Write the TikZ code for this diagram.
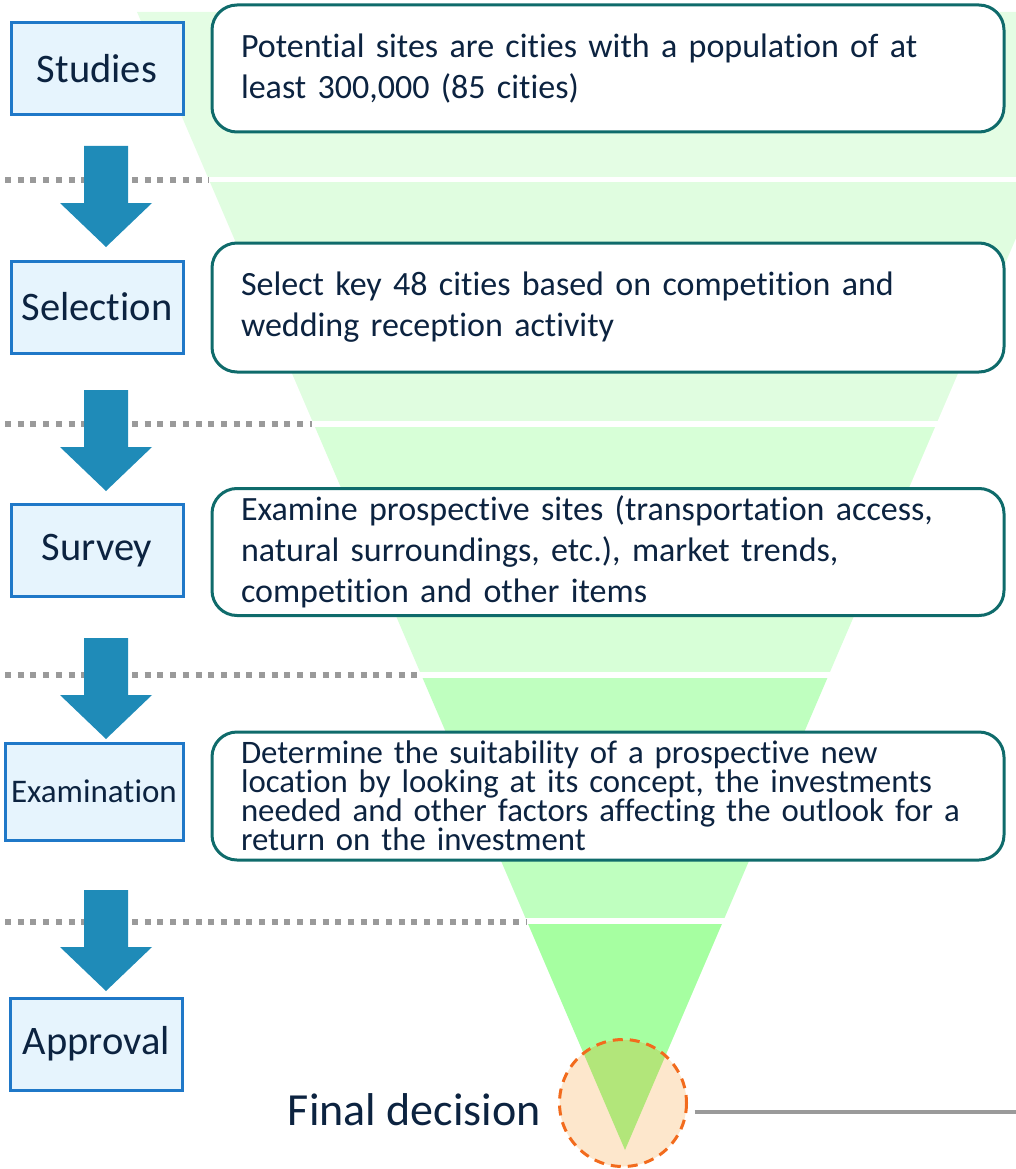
\documentclass[tikz,border=0pt]{standalone}
\usepackage{fontspec}
\setmainfont{Carlito}[Ligatures=NoCommon]
\usepackage{xcolor}
\usepackage{tikz}
\usetikzlibrary{calc}
\usetikzlibrary{positioning}

\definecolor{navy}{HTML}{0C2340}
\definecolor{stageblue}{HTML}{1F78C8}
\definecolor{stagefill}{HTML}{E6F4FD}
\definecolor{arrowblue}{HTML}{1F8BB8}
\definecolor{boxteal}{HTML}{0F6B6B}
\definecolor{sepgray}{HTML}{9A9A9A}
\definecolor{bandA}{HTML}{E4FDE4}
\definecolor{bandB}{HTML}{E0FDE0}
\definecolor{bandC}{HTML}{D7FFD7}
\definecolor{bandD}{HTML}{BFFFBF}
\definecolor{bandE}{HTML}{A6FFA1}
\definecolor{finalfill}{HTML}{FDE7CC}
\definecolor{finalgreen}{HTML}{B2E67A}
\definecolor{finalorange}{HTML}{F26B1D}

\tikzstyle{stage} = [rectangle, draw=stageblue, line width=3, fill=stagefill, text=navy, minimum width=172, minimum height=92, inner sep=0, font=\fontsize{40.5}{48}\selectfont]
\tikzstyle{desc} = [rectangle, rounded corners=25, draw=boxteal, line width=3, fill=white, text=navy, text width=734, inner xsep=29, inner ysep=0, minimum height=127, align=left, font=\fontsize{34}{41}\selectfont]
\tikzstyle{sep} = [draw=sepgray, line width=6, dash pattern=on 6 off 6.7]
\tikzstyle{flow} = [fill=arrowblue]

\begin{document}
\begin{tikzpicture}[x=1pt, y=-1pt]
\useasboundingbox (0, 0) rectangle (1016, 1169);

% funnel
\coordinate (ftl) at (137, 12);
\coordinate (ftr) at (1113, 12);
\coordinate (tip) at (625, 1150);
\foreach \yt/\yb/\col in {12/177/bandA, 183/420/bandB, 427/671/bandC, 678/917/bandD, 924/1150/bandE} {
  \begin{scope}
    \clip (0, \yt) rectangle (1016, \yb);
    \fill [\col] (ftl) -- (ftr) -- (tip) -- cycle;
  \end{scope}
}

% separators
\draw [sep] (5, 180) -- (209, 180);
\draw [sep] (5, 424) -- (312, 424);
\draw [sep] (5, 675) -- (420, 675);
\draw [sep] (5, 922) -- (527, 922);

% down arrows
\foreach \y in {146, 390, 638, 890} {
  \coordinate (a) at (106, \y);
  \fill [flow] ($(a)+(-22,0)$) -- ++(44, 0) -- ++(0, 57) -- ++(24, 0) -- ($(a)+(0,101)$) -- ($(a)+(-46,57)$) -- ++(24, 0) -- cycle;
}

% stages
\node [stage] (studies) at (97, 69) {Studies};
\node [stage] (selection) at (97, 307) {Selection};
\node [stage] (survey) at (97, 550.5) {Survey};
\node [stage, minimum width=178, minimum height=97, font=\fontsize{33}{40}\selectfont] (exam) at (94, 791.5) {Examination};
\node [stage] (approval) at (96.5, 1044) {Approval};

% descriptions
\node [desc] (d1) at (608, 68.5) {Potential sites are cities with a population of at\\least 300,000 (85 cities)};
\node [desc, minimum height=129] (d2) at (608, 307.5) {Select key 48 cities based on competition and\\wedding reception activity};
\node [desc] (d3) at (608, 552) {Examine prospective sites (transportation access,\\natural surroundings, etc.), market trends,\\competition and other items};
\node [desc, minimum height=128, font=\fontsize{32.8}{29}\selectfont] (d4) at (608, 796) {Determine the suitability of a prospective new\\location by looking at its concept, the investments\\needed and other factors affecting the outlook for a\\return on the investment};

% final decision
\node [circle, fill=finalfill, minimum size=127, inner sep=0] (final) at (623, 1103) {};
\begin{scope}
  \clip (final.center) circle (63.5);
  \fill [finalgreen] (ftl) -- (ftr) -- (tip) -- cycle;
\end{scope}
\draw [finalorange, line width=3, dash pattern=on 10 off 7] (final.center) circle (63.5);
\node [anchor=base east, text=navy, font=\fontsize{46}{52}\selectfont, inner sep=0] (flabel) at (541, 1125) {Final decision};
\coordinate (lineend) at (1016, 1112);
\draw [sepgray, line width=4] ($(final.east)+(8,9)$) -- (lineend);
\end{tikzpicture}
\end{document}
